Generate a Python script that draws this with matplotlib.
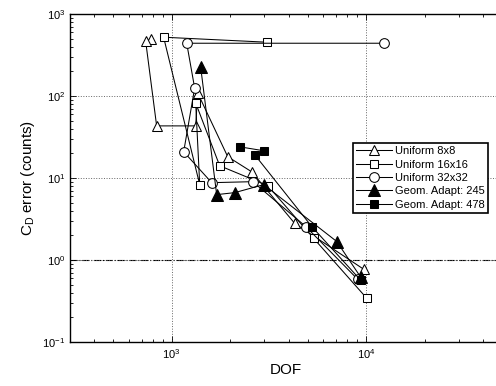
import matplotlib
matplotlib.use("Agg")
import matplotlib.pyplot as plt
from matplotlib.ticker import LogLocator, NullFormatter

plt.rcParams['font.family'] = ['Liberation Sans', 'DejaVu Sans']
plt.rcParams['mathtext.fontset'] = 'custom'
plt.rcParams['mathtext.rm'] = 'Liberation Sans'
plt.rcParams['mathtext.it'] = 'Liberation Sans'

# Convergence data: drag-coefficient error vs. degrees of freedom
dof_u8 = [780, 735, 837, 1329, 1361, 1942, 2580, 4296, 9731]
err_u8 = [493, 466, 43.2, 43.2, 109, 18.2, 11.9, 2.79, 0.77]

dof_u16 = [3083, 909, 1394, 1329, 1766, 3120, 5381, 10083]
err_u16 = [453, 521, 8.3, 82.2, 14.1, 8.06, 1.83, 0.341]

dof_u32 = [12340, 1195, 1313, 1153, 1607, 2611, 4894, 9064]
err_u32 = [440, 440, 125, 20.9, 8.77, 9.02, 2.56, 0.58]

dof_g245 = [1410, 1704, 2110, 2975, 7066, 9392]
err_g245 = [225, 6.27, 6.63, 8.3, 1.68, 0.615]

dof_g478 = [2239, 2975, 2674, 5254, 9392]
err_g478 = [24.0, 21.5, 19.2, 2.56, 0.565]

labels = ['Uniform 8x8', 'Uniform 16x16', 'Uniform 32x32',
          'Geom. Adapt: 245', 'Geom. Adapt: 478']

fig = plt.figure(figsize=(4.96, 3.86), dpi=100)
ax = fig.add_axes([70 / 496, 44 / 386, 432 / 496, 328 / 386])

kw = dict(color='black', lw=0.75, mec='black', mew=0.75)
ax.plot(dof_u8, err_u8, marker='^', ms=7.5, mfc='white', label=labels[0], **kw)
ax.plot(dof_u16, err_u16, marker='s', ms=6, mfc='white', label=labels[1], **kw)
ax.plot(dof_u32, err_u32, marker='o', ms=7, mfc='white', label=labels[2], **kw)
ax.plot(dof_g245, err_g245, marker='^', ms=8, mfc='black', label=labels[3], **kw)
ax.plot(dof_g478, err_g478, marker='s', ms=6, mfc='black', label=labels[4], **kw)

ax.axhline(1.0, color='black', lw=0.8, ls='-.', zorder=1)

ax.set_xscale('log')
ax.set_yscale('log')
ax.set_xlim(300, 5e4)
ax.set_ylim(0.1, 1000)

ax.xaxis.set_major_locator(LogLocator(base=10, numticks=10))
ax.yaxis.set_major_locator(LogLocator(base=10, numticks=10))
ax.xaxis.set_minor_locator(LogLocator(base=10, subs=range(2, 10), numticks=20))
ax.yaxis.set_minor_locator(LogLocator(base=10, subs=range(2, 10), numticks=20))
ax.xaxis.set_minor_formatter(NullFormatter())
ax.yaxis.set_minor_formatter(NullFormatter())

ax.tick_params(which='both', direction='in', top=True, right=True,
               labelsize=8, width=0.6)
ax.tick_params(which='major', length=4)
ax.tick_params(which='minor', length=2)
ax.grid(True, which='major', ls=':', color='#666666', lw=0.7)
for s in ax.spines.values():
    s.set_linewidth(1.0)

ax.set_xlabel('DOF', fontsize=11, labelpad=2)
ax.set_ylabel('C$_\\mathrm{D}$ error (counts)', fontsize=11, labelpad=4)

leg = ax.legend(loc='upper right', bbox_to_anchor=(0.968, 0.607),
                borderaxespad=0, fontsize=8, fancybox=False,
                framealpha=1, edgecolor='black', handlelength=3.2,
                borderpad=0.3, labelspacing=0.3, handletextpad=0.3)
leg.get_frame().set_linewidth(1.2)

fig.savefig('out.png', dpi=100)
